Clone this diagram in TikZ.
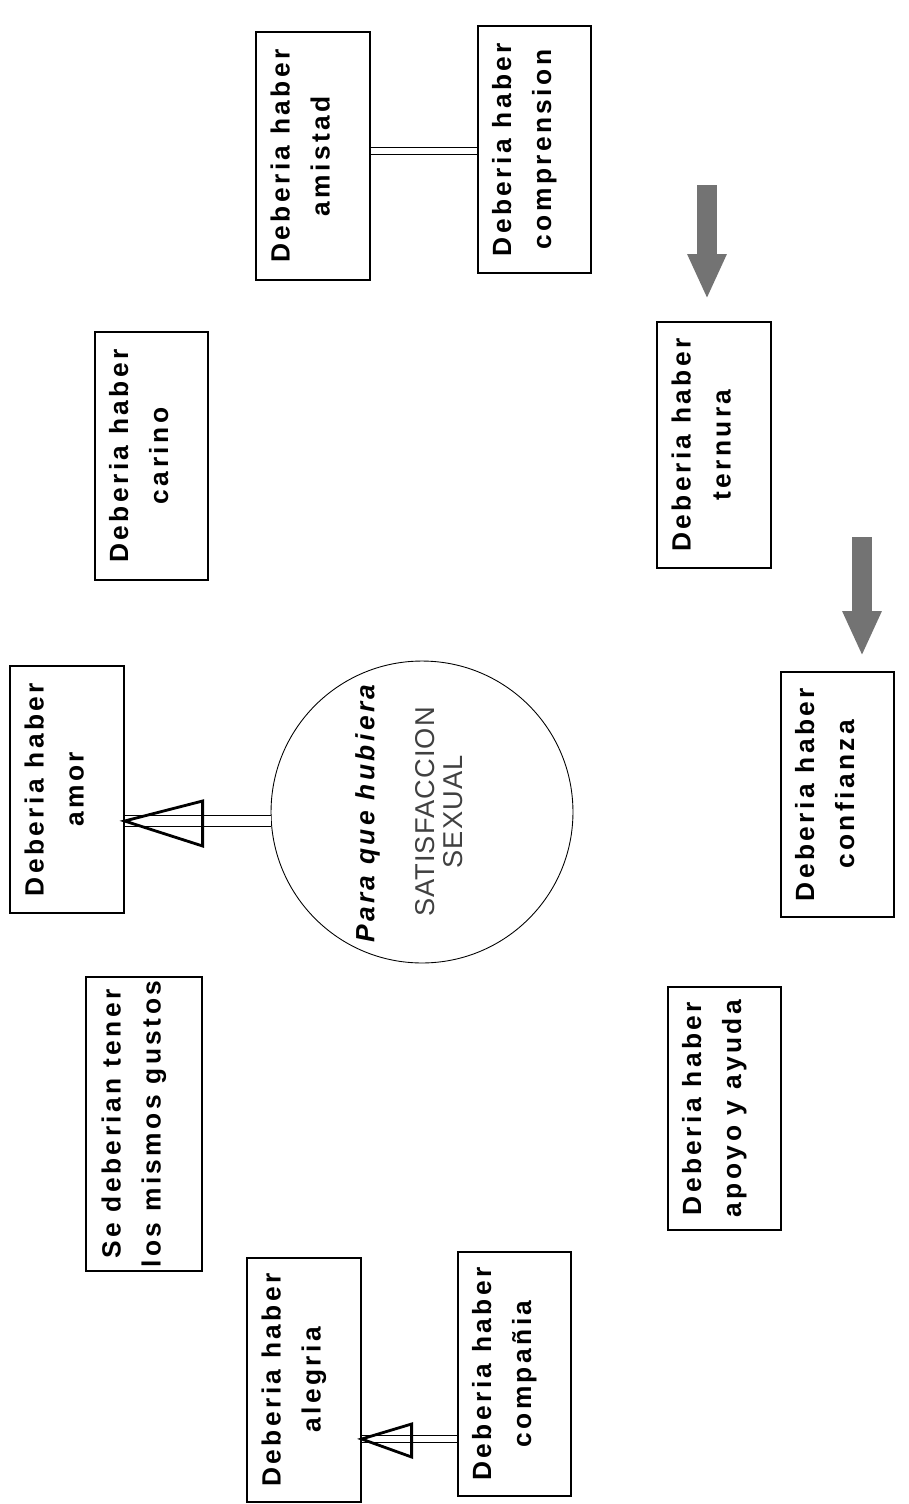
\documentclass[tikz,border=0pt]{standalone}
\usepackage{fontspec}
\usepackage{graphicx}
\setmainfont{Liberation Sans}
\newfontfamily\boxfont[LetterSpace=13]{Liberation Sans}
\newfontfamily\thinfont[LetterSpace=4]{Liberation Sans}
\usetikzlibrary{shapes,arrows.meta,positioning,calc}

\newcommand{\twolines}[2]{\rotatebox{90}{\begin{tabular}{@{}c@{}}#1\\#2\end{tabular}}\hspace*{13pt}}

\begin{document}
\begin{tikzpicture}[
    x=0.02cm, y=-0.02cm,
    every node/.style={font=\boxfont\bfseries\fontsize{15}{22.8}\selectfont},
    idea/.style={rectangle, draw=black, line width=1pt, minimum width=2.27cm, inner sep=0pt},
    goal/.style={circle, draw=black, line width=0.5pt, minimum size=6.04cm, inner sep=0pt},
    bar/.style={double, double distance=0.12cm, line width=0.6pt},
    hollow/.style={line width=1.6pt, line join=miter},
    fat/.style={line width=0.4cm, black!55, -{Triangle[length=0.9cm, width=0.72cm]}}
]
    \useasboundingbox (0,0) rectangle (909,1504);

    % Centre
    \node[goal] (goal) at (422,812) {\rotatebox{90}{\begin{tabular}{@{}c@{}}\textit{Para que hubiera}\\[16.5pt]
        {\thinfont\mdseries\fontsize{15.5}{22.8}\selectfont\color{black!75}\def\arraystretch{0.7}\begin{tabular}{@{}c@{}}SATISFACCION\\SEXUAL\end{tabular}}\end{tabular}}\hspace*{15pt}};

    % Top row
    \node[idea, minimum height=4.96cm] (amistad) at (313,156) {\twolines{Deberia haber}{amistad}};
    \node[idea, minimum height=4.94cm] (comprension) at (534.5,149.5) {\twolines{Deberia haber}{comprension}};

    % Middle
    \node[idea, minimum height=4.96cm] (carino) at (151.5,456) {\twolines{Deberia haber}{carino}};
    \node[idea, minimum height=4.92cm] (ternura) at (714,445) {\twolines{Deberia haber}{ternura}};
    \node[idea, minimum height=4.94cm] (amor) at (67,789.5) {\twolines{Deberia haber}{amor}};
    \node[idea, minimum height=4.9cm] (confianza) at (837.5,794.5) {\twolines{Deberia haber}{confianza}};

    % Bottom
    \node[idea, minimum width=2.32cm, minimum height=5.88cm] (gustos) at (144,1124) {\twolines{Se deberian tener}{los mismos gustos}};
    \node[idea, minimum height=4.86cm] (apoyo) at (724.5,1108.5) {\twolines{Deberia haber}{apoyo y ayuda}};
    \node[idea, minimum height=4.88cm] (alegria) at (304,1380) {\twolines{Deberia haber}{alegria}};
    \node[idea, minimum height=4.88cm] (compania) at (514.5,1374) {\twolines{Deberia haber}{compa\~nia}};

    % Free ends of the grey arrows
    \coordinate (tfrom) at (707,185);
    \coordinate (cfrom) at (862,537);

    % Connectors
    \draw[bar] ($(amistad.east)+(0,-5)$) -- ($(amistad.east -| comprension.west)+(0,-5)$);
    \draw[bar, double distance=0.2cm] ($(goal.west)+(0,9)$) -- ($(goal.west -| amor.east)+(0,9)$);
    \draw[hollow] ($(goal.west -| amor.east)+(0,9)$) -- ++(78,-20) -- ++(0,45) -- cycle;
    \draw[bar] ($(compania.west)+(0,65)$) -- ($(compania.west -| alegria.east)+(0,65)$);
    \draw[hollow] ($(compania.west -| alegria.east)+(0,65)$) -- ++(50,-15) -- ++(0,33) -- cycle;
    \draw[fat, shorten >=0.44cm] (tfrom) -- (tfrom |- ternura.north);
    \draw[fat, shorten >=0.3cm] (cfrom) -- (cfrom |- confianza.north);
\end{tikzpicture}
\end{document}
